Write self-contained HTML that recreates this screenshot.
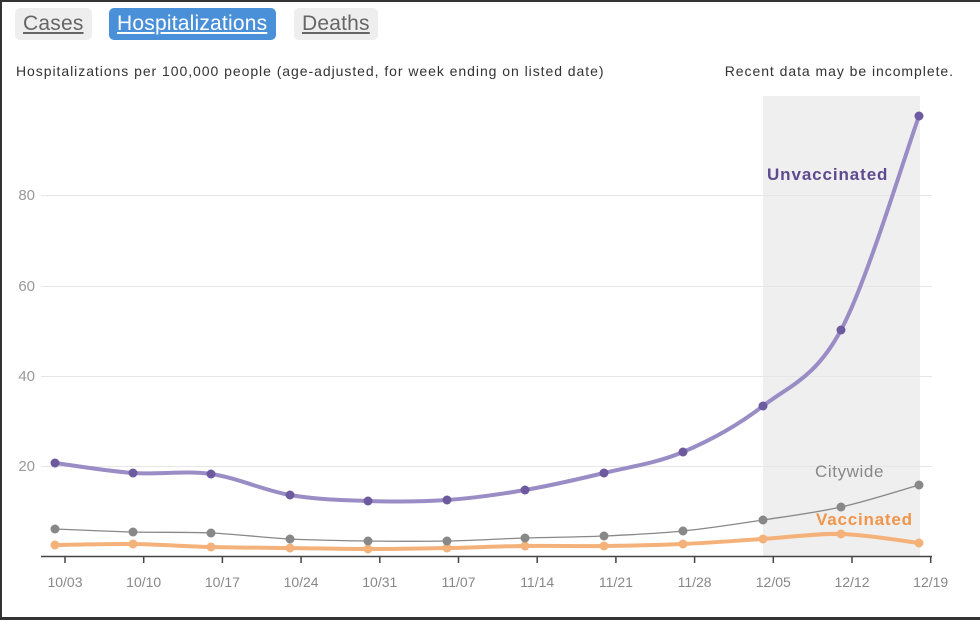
<!DOCTYPE html>
<html><head><meta charset="utf-8"><style>
html,body{margin:0;padding:0;background:#fff;}
body{width:980px;height:620px;overflow:hidden;position:relative;font-family:"Liberation Sans",Arial,sans-serif;}
.frame{position:absolute;left:0;top:0;width:980px;height:620px;box-sizing:border-box;border-left:2px solid #333;border-top:2px solid #333;border-bottom:3px solid #333;}
.btn{position:absolute;top:8px;height:32px;line-height:31px;border-radius:5px;font-size:21px;text-decoration:underline;padding:0 8px;box-sizing:border-box;letter-spacing:0.2px;}
</style></head><body>
<div class="btn" style="left:15px;width:77px;background:#eee;color:#666;">Cases</div>
<div class="btn" style="left:109px;width:167px;background:#4a90d9;color:#fff;">Hospitalizations</div>
<div class="btn" style="left:294px;width:84px;background:#eee;color:#666;">Deaths</div>
<div style="position:absolute;left:16px;top:63px;font-size:14px;color:#333;letter-spacing:0.95px;">Hospitalizations per 100,000 people (age-adjusted, for week ending on listed date)</div>
<div style="position:absolute;right:26px;top:63px;font-size:14px;color:#333;letter-spacing:0.95px;">Recent data may be incomplete.</div>
<svg id="c" width="980" height="620" style="position:absolute;left:0;top:0" font-family="Liberation Sans, Arial, sans-serif">
<rect x="763" y="96" width="157" height="460" fill="#efefef"/>
<g stroke="#e6e6e6" stroke-width="1">
<line x1="41" x2="932" y1="466.5" y2="466.5"/><line x1="41" x2="932" y1="376.5" y2="376.5"/>
<line x1="41" x2="932" y1="286.5" y2="286.5"/><line x1="41" x2="932" y1="195.5" y2="195.5"/>
</g>
<g fill="#999" font-size="15" text-anchor="end">
<text x="35" y="471">20</text><text x="35" y="381">40</text><text x="35" y="291">60</text><text x="35" y="200">80</text>
</g>
<line x1="41" x2="932" y1="556.5" y2="556.5" stroke="#444" stroke-width="1.5"/>
<g id="ticks"></g>
<g id="series"></g>
<text x="767" y="180" font-size="17" font-weight="bold" fill="#5e4a8e" letter-spacing="0.9">Unvaccinated</text>
<text x="815" y="477" font-size="17" fill="#888" letter-spacing="0.6">Citywide</text>
<text x="816" y="525" font-size="17" font-weight="bold" fill="#f0954a" letter-spacing="0.8">Vaccinated</text>
</svg>
<div class="frame"></div>
<script>
var xs=[55,133,211,290,368,447,525,604,683,763,841,919];
var un=[463,473,474,495,501,500,490,473,452,406,330,116];
var ci=[529,532,533,539,541,541,538,536,531,520,507,485];
var va=[545,544,547,548,549,548,546,546,544,539,534,543];
var labels=["10/03","10/10","10/17","10/24","10/31","11/07","11/14","11/21","11/28","12/05","12/12","12/19"];
var ns="http://www.w3.org/2000/svg";
var tk=document.getElementById("ticks");
for(var i=0;i<12;i++){
 var tx=65+i*78.7;
 var l=document.createElementNS(ns,"line");
 l.setAttribute("x1",tx);l.setAttribute("x2",tx);l.setAttribute("y1",556);l.setAttribute("y2",563);
 l.setAttribute("stroke","#444");l.setAttribute("stroke-width","1.5");tk.appendChild(l);
 var t=document.createElementNS(ns,"text");
 t.setAttribute("x",tx);t.setAttribute("y",587);t.setAttribute("font-size","14");t.setAttribute("fill","#888");
 t.setAttribute("text-anchor","middle");t.textContent=labels[i];tk.appendChild(t);
}
function path(ys){
 var d="M"+xs[0]+","+ys[0];
 for(var i=0;i<xs.length-1;i++){
  var x0=xs[Math.max(i-1,0)],y0=ys[Math.max(i-1,0)],x1=xs[i],y1=ys[i],x2=xs[i+1],y2=ys[i+1],x3=xs[Math.min(i+2,11)],y3=ys[Math.min(i+2,11)];
  d+=" C"+(x1+(x2-x0)/6)+","+(y1+(y2-y0)/6)+" "+(x2-(x3-x1)/6)+","+(y2-(y3-y1)/6)+" "+x2+","+y2;
 }
 return d;
}
var sg=document.getElementById("series");
function draw(ys,col,w,r){
 var p=document.createElementNS(ns,"path");
 p.setAttribute("d",path(ys));p.setAttribute("fill","none");p.setAttribute("stroke",col);p.setAttribute("stroke-width",w);
 sg.appendChild(p);
 for(var i=0;i<12;i++){var c=document.createElementNS(ns,"circle");c.setAttribute("cx",xs[i]);c.setAttribute("cy",ys[i]);c.setAttribute("r",r);c.setAttribute("fill",col);sg.appendChild(c);}
}
draw(va,"#f4b27a",4,4.5);
draw(ci,"#888",1.3,4.5);
draw(un,"#9a8cc4",4,4.5);
var sg2=sg.querySelectorAll("circle");
for(var k=24;k<36;k++){sg2[k].setAttribute("fill","#6e5a9e");}
</script>
</body></html>
